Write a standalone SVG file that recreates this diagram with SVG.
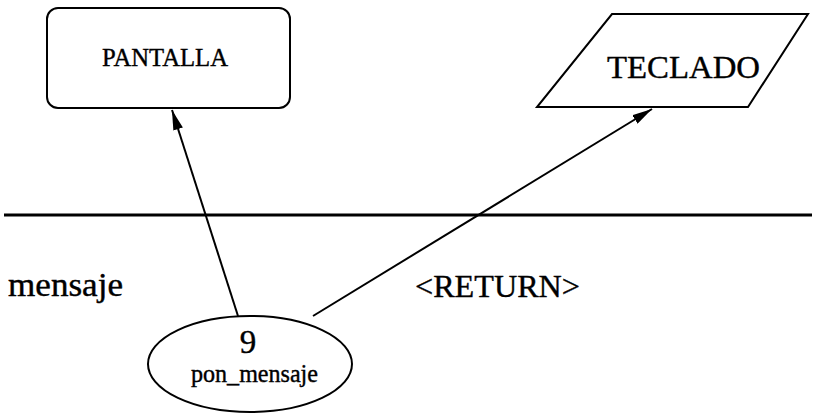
<svg xmlns="http://www.w3.org/2000/svg" width="813" height="418" viewBox="0 0 813 418">
<style>
.s{fill:#fff;stroke:#000;stroke-width:2}
.t{font-family:"Liberation Serif","Times New Roman",serif;fill:#000;stroke:#000;stroke-width:0.4}
.c{stroke:#000;stroke-width:2;fill:none}
</style>
<defs>
<marker id="ah" viewBox="0 0 20 10" refX="20" refY="5" markerWidth="20" markerHeight="10" markerUnits="userSpaceOnUse" orient="auto">
<path d="M0,0 L20,5 L0,10 z" fill="#000"/>
</marker>
</defs>
<rect width="813" height="418" fill="#fff"/>
<line x1="4" y1="215" x2="812" y2="215" stroke="#000" stroke-width="3"/>
<g id="pantalla">
<rect class="s" x="47" y="8" width="243" height="100" rx="11"/>
<text class="t" x="102" y="66" font-size="26" textLength="126" lengthAdjust="spacingAndGlyphs">PANTALLA</text>
</g>
<g id="teclado">
<polygon class="s" points="612,14 808,14 748,107 537,107"/>
<text class="t" x="607" y="78" font-size="32" textLength="153" lengthAdjust="spacingAndGlyphs">TECLADO</text>
</g>
<g id="pon_mensaje">
<ellipse class="s" cx="250" cy="364" rx="102" ry="48"/>
<text class="t" x="248" y="353" font-size="33" text-anchor="middle">9</text>
<text class="t" x="191" y="382" font-size="25" textLength="127" lengthAdjust="spacingAndGlyphs">pon_mensaje</text>
</g>
<g id="labels">
<text class="t" x="8" y="296" font-size="33" textLength="115" lengthAdjust="spacingAndGlyphs">mensaje</text>
<text class="t" x="415" y="297" font-size="32" textLength="165" lengthAdjust="spacingAndGlyphs">&lt;RETURN&gt;</text>
</g>
<g id="connectors">
<line class="c" x1="238" y1="316" x2="172" y2="110" marker-end="url(#ah)"/>
<line class="c" x1="313" y1="316" x2="652" y2="109" marker-end="url(#ah)"/>
</g>
</svg>
